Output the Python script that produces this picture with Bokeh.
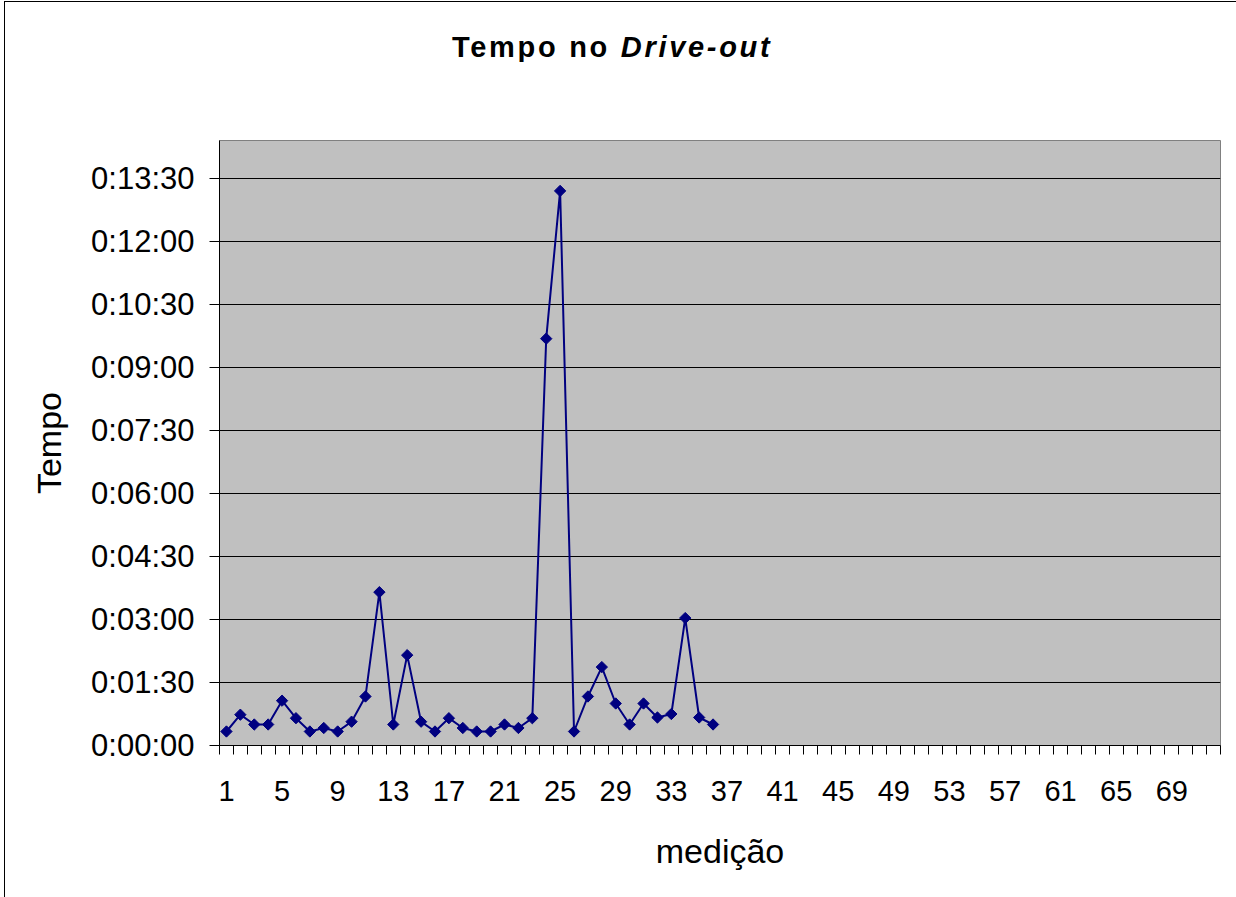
import math
from bokeh.plotting import figure
from bokeh.models import FixedTicker, Range1d, Div
from bokeh.layouts import column
from bokeh.embed import file_html
from bokeh.resources import INLINE

# ---- data ----
categories = list(range(1, 73))                     # x categories (medição)
measurement = list(range(1, 37))                    # measured points
seconds = [20, 44, 30, 30, 64, 39, 20, 25, 20, 34, 70, 219, 30, 129, 34, 20, 39, 25,
           20, 20, 30, 25, 39, 581, 792, 20, 70, 112, 60, 30, 60, 40, 45, 182, 40, 30]
x_label_cats = categories[::4]                      # 1, 5, 9, ... 69
y_tick_seconds = [0, 90, 180, 270, 360, 450, 540, 630, 720, 810]
y_tick_labels = ["0:00:00", "0:01:30", "0:03:00", "0:04:30", "0:06:00",
                 "0:07:30", "0:09:00", "0:10:30", "0:12:00", "0:13:30"]
y_max = 864
title_plain = "Tempo no"
title_italic = "Drive-out"

FONT = "Liberation Sans"

title_div = Div(
    text=(f'<div style="box-sizing:border-box; height:60px; overflow:hidden; margin:0; '
          f'padding-top:30px; padding-left:447px; line-height:30px; text-align:left; '
          f'font-family:\'{FONT}\'; font-size:29px; font-weight:bold; letter-spacing:2.7px; '
          f'color:#000000; white-space:nowrap;">{title_plain} <i>{title_italic}</i></div>'),
    width=1231, height=60, margin=(0, 0, 0, 0))

p = figure(width=1231, height=835, output_backend="svg", toolbar_location=None,
           x_range=Range1d(categories[0] - 0.5, categories[-1] + 0.5),
           y_range=Range1d(0, y_max),
           min_border_left=214, min_border_right=16, min_border_top=78, min_border_bottom=152)

p.background_fill_color = "#C0C0C0"
p.border_fill_color = "#FFFFFF"
p.outline_line_color = "#808080"
p.outline_line_width = 1

# x axis
xa = p.xaxis[0]
xa.ticker = FixedTicker(ticks=x_label_cats,
                        minor_ticks=[c - 0.5 for c in categories] + [categories[-1] + 0.5])
xa.major_tick_line_color = None
xa.major_tick_out = 0
xa.major_tick_in = 0
xa.minor_tick_line_color = "#000000"
xa.minor_tick_out = 9
xa.minor_tick_in = 0
xa.axis_line_color = "#000000"
xa.major_label_text_font = FONT
xa.major_label_text_font_size = "29px"
xa.major_label_text_color = "#000000"
xa.major_label_standoff = 26
xa.axis_label = "medição"
xa.axis_label_text_font = FONT
xa.axis_label_text_font_size = "34px"
xa.axis_label_text_font_style = "normal"
xa.axis_label_text_color = "#000000"
xa.axis_label_standoff = 28

# y axis
ya = p.yaxis[0]
ya.ticker = FixedTicker(ticks=y_tick_seconds, minor_ticks=[])
ya.major_label_overrides = {s: lab for s, lab in zip(y_tick_seconds, y_tick_labels)}
ya.major_tick_line_color = "#000000"
ya.major_tick_out = 10
ya.major_tick_in = 0
ya.minor_tick_line_color = None
ya.axis_line_color = "#000000"
ya.major_label_text_font = FONT
ya.major_label_text_font_size = "31px"
ya.major_label_text_color = "#000000"
ya.major_label_standoff = 15
ya.axis_label = "Tempo"
ya.axis_label_text_font = FONT
ya.axis_label_text_font_size = "34px"
ya.axis_label_text_font_style = "normal"
ya.axis_label_text_color = "#000000"
ya.axis_label_standoff = 20

# grid
p.xgrid.grid_line_color = None
p.ygrid.ticker = FixedTicker(ticks=y_tick_seconds)
p.ygrid.grid_line_color = "#000000"
p.ygrid.grid_line_width = 1

# series
p.line(measurement, seconds, line_color="#000080", line_width=2)
p.scatter(measurement, seconds, marker="square", angle=math.pi / 4, size=8,
          fill_color="#000080", line_color="#000080")

layout = column(title_div, p, spacing=0,
                styles={"border-left": "1px solid #000000", "border-top": "1px solid #000000",
                        "border-right": "1px solid #000000", "margin-left": "4px",
                        "margin-top": "1px", "background-color": "#FFFFFF"})

open("out.html", "w").write(file_html(layout, INLINE))
